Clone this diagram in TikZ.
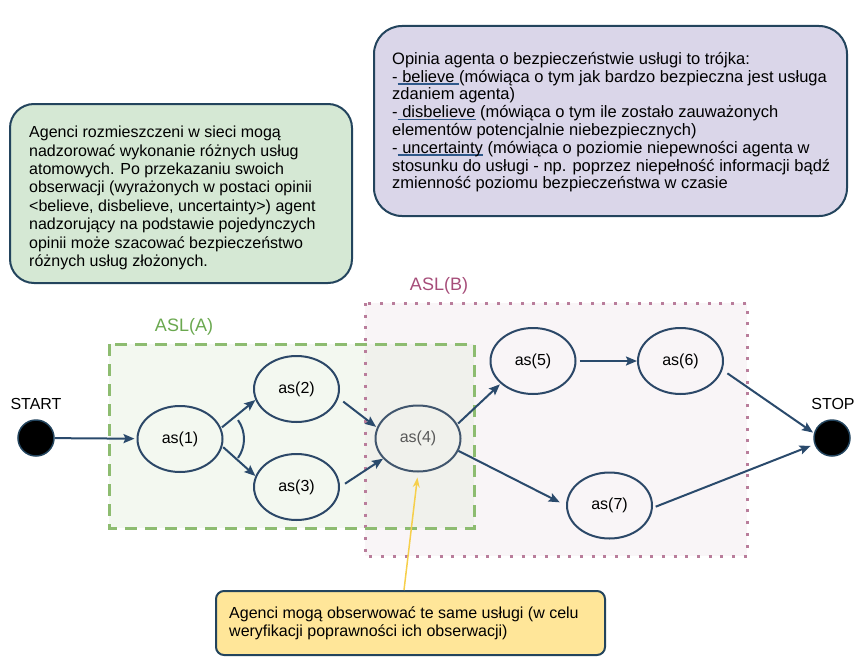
\documentclass[tikz,border=0pt]{standalone}
\usepackage{fontspec}
\setmainfont{Liberation Sans}
\usetikzlibrary{arrows.meta, shapes.geometric}
\definecolor{flowblue}{RGB}{42,74,108}
\definecolor{edgeblue}{RGB}{44,72,104}
\definecolor{noteedge}{RGB}{35,68,93}
\definecolor{notegreen}{RGB}{213,232,212}
\definecolor{notepurple}{RGB}{218,214,233}
\definecolor{noteyellow}{RGB}{255,230,153}
\definecolor{ulblue}{RGB}{46,88,138}
\definecolor{aslAline}{RGB}{141,188,112}
\definecolor{aslAtext}{RGB}{106,168,79}
\definecolor{aslAfill}{RGB}{243,248,240}
\definecolor{aslBline}{RGB}{185,125,155}
\definecolor{aslBtext}{RGB}{166,77,121}
\definecolor{aslBfill}{RGB}{249,245,247}
\definecolor{overlapfill}{RGB}{240,241,236}
\definecolor{hintyellow}{RGB}{246,207,75}
\newcommand{\blueul}[1]{\setbox0=\hbox{#1}\rlap{\color{ulblue}\rule[-2.5pt]{\wd0}{1.5pt}}\box0\relax}

\begin{document}
\begin{tikzpicture}[x=1pt, y=-1pt,
    every node/.style={font=\fontsize{16}{18}\selectfont},
    asnode/.style={ellipse, draw=edgeblue, line width=2pt,
                   minimum width=85pt, minimum height=66pt, inner sep=0pt},
    term/.style={circle, draw=noteedge, line width=1.5pt, fill=black,
                 minimum size=36pt, inner sep=0pt},
    flow/.style={-{Stealth[length=11pt, width=9pt, inset=2pt]}, draw=flowblue,
                 line width=2pt},
    note/.style={draw=noteedge, line width=2pt, anchor=north west, inner sep=0pt},
    notetext/.style={anchor=north west, align=left, inner sep=0pt}]
  \useasboundingbox (0,0) rectangle (858,669);

  % service groups
  \fill[aslBfill] (365,303) rectangle (747,556);
  \fill[aslAfill] (109,344) rectangle (474,528);
  \fill[overlapfill] (365,344) rectangle (474,528);
  \draw[aslBline, line width=3pt, dash pattern=on 3pt off 8.7pt] (365,303) rectangle (747,556);
  \draw[aslAline, line width=3pt, dash pattern=on 12pt off 8pt] (109,344) rectangle (474,528);
  \node[text=aslAtext, font=\fontsize{18}{20}\selectfont] (aslA) at (184,327) {ASL(A)};
  \node[text=aslBtext, font=\fontsize{18}{20}\selectfont] (aslB) at (439,286) {ASL(B)};

  % start / stop
  \node[term] (start) at (36,438) {};
  \node (startlbl) at (36,404) {START};
  \node[term] (stop) at (832,438) {};
  \node (stoplbl) at (833,404) {STOP};

  % atomic services
  \node[asnode] (as1) at (180,439) {as(1)};
  \node[asnode] (as2) at (296.5,389) {as(2)};
  \node[asnode] (as3) at (296.5,487) {as(3)};
  \node[asnode, draw=edgeblue!75!gray, text=black!65] (as4) at (418,438.5) {as(4)};
  \node[asnode] (as5) at (533,361) {as(5)};
  \node[asnode] (as6) at (680.5,361) {as(6)};
  \node[asnode] (as7) at (609.5,505.5) {as(7)};

  % flow
  \draw[flow, shorten >=2pt] (start) -- (as1);
  \draw[flow, shorten <=1pt] (as1.15) -- (as2.195);
  \draw[flow, shorten <=1pt] (as1.-10) -- (as3.165);
  \draw[flow, shorten <=6pt, shorten >=1pt] (as2.-12) -- (as4.165);
  \draw[flow, shorten <=6pt] (as3.0) -- (as4.210);
  \draw[flow, shorten <=1pt, shorten >=1pt] (as4.20) -- (as5.215);
  \draw[flow, shorten <=3pt] (as5) -- (as6);
  \draw[flow, shorten >=7pt] (as4.-17) -- (as7.180);
  \draw[flow, shorten <=6pt, shorten >=1pt] (as6.-12) -- (stop.165);
  \draw[flow, shorten <=3pt, shorten >=4pt] (as7.-3) -- (stop.200);
  \draw[flowblue, line width=2pt] ([xshift=-12.5pt]as1.east) ++(-35:33pt)
    arc[start angle=-35, end angle=35, radius=33pt];

  % notes
  \node[note, fill=notegreen, rounded corners=24pt, minimum width=342pt, minimum height=179pt] (notea) at (9,103) {};
  \node[notetext, font=\fontsize{16}{18.4}\selectfont] (noteatxt) at (29,126) {Agenci rozmieszczeni w sieci mogą\\
nadzorować wykonanie różnych usług\\
atomowych. Po przekazaniu swoich\\
obserwacji (wyrażonych w postaci opinii\\
<believe, disbelieve, uncertainty>) agent\\
nadzorujący na podstawie pojedynczych\\
opinii może szacować bezpieczeństwo\\
różnych usług złożonych.};

  \node[note, fill=notepurple, rounded corners=28pt, minimum width=473pt, minimum height=190pt] (noteb) at (373,25) {};
  \node[notetext, font=\fontsize{16.5}{17.8}\selectfont] (notebtxt) at (392,52) {Opinia agenta o bezpieczeństwie usługi to trójka:\\
-\blueul{ believe }(mówiąca o tym jak bardzo bezpieczna jest usługa\\
zdaniem agenta)\\
-\blueul{ disbelieve} (mówiąca o tym ile zostało zauważonych\\
elementów potencjalnie niebezpiecznych)\\
-\blueul{ uncertainty} (mówiąca o poziomie niepewności agenta w\\
stosunku do usługi - np. poprzez niepełność informacji bądź\\
zmienność poziomu bezpieczeństwa w czasie};

  \node[note, fill=noteyellow, rounded corners=8pt, minimum width=389pt, minimum height=64pt] (notec) at (215,590) {};
  \node[notetext, font=\fontsize{16}{18}\selectfont] (notectxt) at (229,607) {Agenci mogą obserwować te same usługi (w celu\\
weryfikacji poprawności ich obserwacji)};
  \draw[hintyellow, line width=1.5pt, -{Stealth[length=10pt, width=7pt]}, shorten >=5pt]
    ([xshift=-6.5pt]notec.north) -- (as4.south);
\end{tikzpicture}
\end{document}
